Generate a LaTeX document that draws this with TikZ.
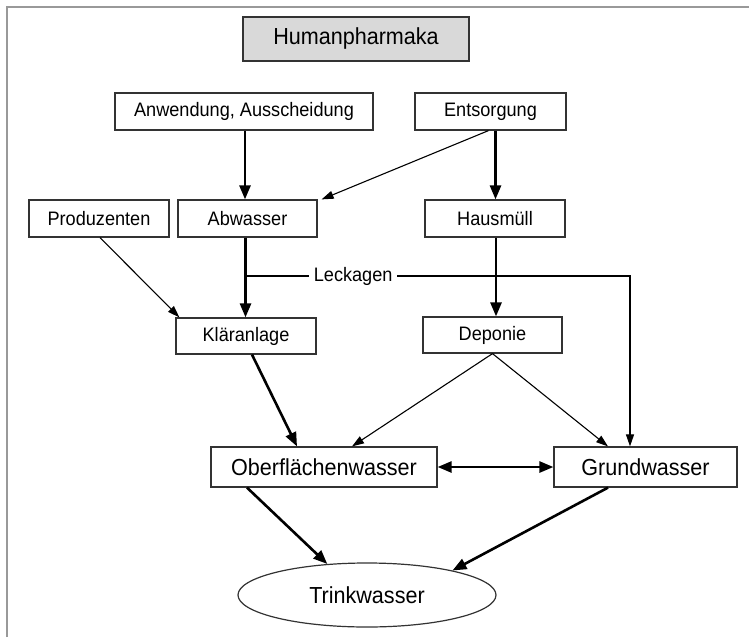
\documentclass[tikz,border=0pt]{standalone}
\usepackage{fontspec}
\setmainfont{Liberation Sans}[FakeStretch=0.93]
\usetikzlibrary{arrows.meta,shapes.geometric}

\tikzset{
	kasten/.style={draw=black!80, line width=1.2pt, inner sep=0pt, font=\fontsize{19.5}{22}\selectfont},
	grosskasten/.style={kasten, font=\fontsize{23.2}{26}\selectfont},
	dick/.style={line width=2.6pt, -{Triangle[length=14pt,width=11pt]}},
	duenn/.style={line width=1.1pt, -{Triangle[length=12pt,width=8pt]}}
}

\begin{document}
\begin{tikzpicture}[x=1pt, y=-1pt]
	\useasboundingbox (0,0) rectangle (749,637);
	
	% Rahmen
	\draw[line width=2pt, black!40] (7,637) -- (7,7) -- (749,7);
	
	% Titel
	\node[grosskasten, fill=black!15, minimum width=226, minimum height=44] (human) at (356,39) {Humanpharmaka};
	
	% Quellen
	\node[kasten, minimum width=258, minimum height=37] (anw) at (244,111.5) {Anwendung, Ausscheidung};
	\node[kasten, minimum width=151, minimum height=37] (ents) at (490.5,111.5) {Entsorgung};
	\node[kasten, minimum width=140, minimum height=37] (prod) at (99,218.5) {Produzenten};
	\node[kasten, minimum width=139, minimum height=37] (abw) at (247.5,218.5) {Abwasser};
	\node[kasten, minimum width=140, minimum height=37] (haus) at (495,218.5) {Hausmüll};
	\node[kasten, minimum width=140, minimum height=36] (klaer) at (246,336) {Kläranlage};
	\node[kasten, minimum width=139, minimum height=36] (dep) at (492.5,335) {Deponie};
	
	% Gewaesser
	\node[grosskasten, minimum width=226, minimum height=40] (ober) at (324,467) {Oberflächenwasser};
	\node[grosskasten, minimum width=183, minimum height=40] (grund) at (645.5,467) {Grundwasser};
	\node[grosskasten, ellipse, minimum width=258, minimum height=64] (trink) at (367,595) {Trinkwasser};
	
	% Pfeile oben
	\draw[dick] ([xshift=1]anw.south) -- ([xshift=1]anw.south |- abw.north);
	\draw[dick] ([xshift=5]ents.south) -- ([xshift=5]ents.south |- haus.north);
	\draw[duenn] ([xshift=-2]ents.south) -- ([xshift=4]abw.north east);
	\draw[duenn] ([xshift=1]prod.south) -- ([xshift=4]klaer.north west);
	\draw[dick] ([xshift=-2]abw.south) -- ([xshift=-2]abw.south |- klaer.north);
	\draw[dick] ([xshift=1]haus.south) -- ([xshift=1]haus.south |- dep.north);
	
	% Leckagen
	\coordinate (leck) at (245.5,276);
	\coordinate (knick) at (630,276);
	\draw[duenn] (leck) -- node[pos=0.28, fill=white, inner xsep=5pt, inner ysep=1pt, font=\fontsize{19.5}{22}\selectfont] (lecktext) {Leckagen} (knick) -- (knick |- grund.north);
	
	% Pfeile unten
	\draw[dick] ([xshift=6]klaer.south) -- ([xshift=-27]ober.north);
	\draw[duenn] (dep.south) -- ([xshift=28]ober.north);
	\draw[duenn] (dep.south) -- ([xshift=-37.5]grund.north);
	\draw[dick, {Triangle[length=14pt,width=11pt]}-{Triangle[length=14pt,width=11pt]}] (ober.east) -- (grund.west);
	\draw[dick] ([xshift=-77]ober.south) -- (trink.142);
	\draw[dick] ([xshift=-37.5]grund.south) -- (trink.16);
	
\end{tikzpicture}
\end{document}
